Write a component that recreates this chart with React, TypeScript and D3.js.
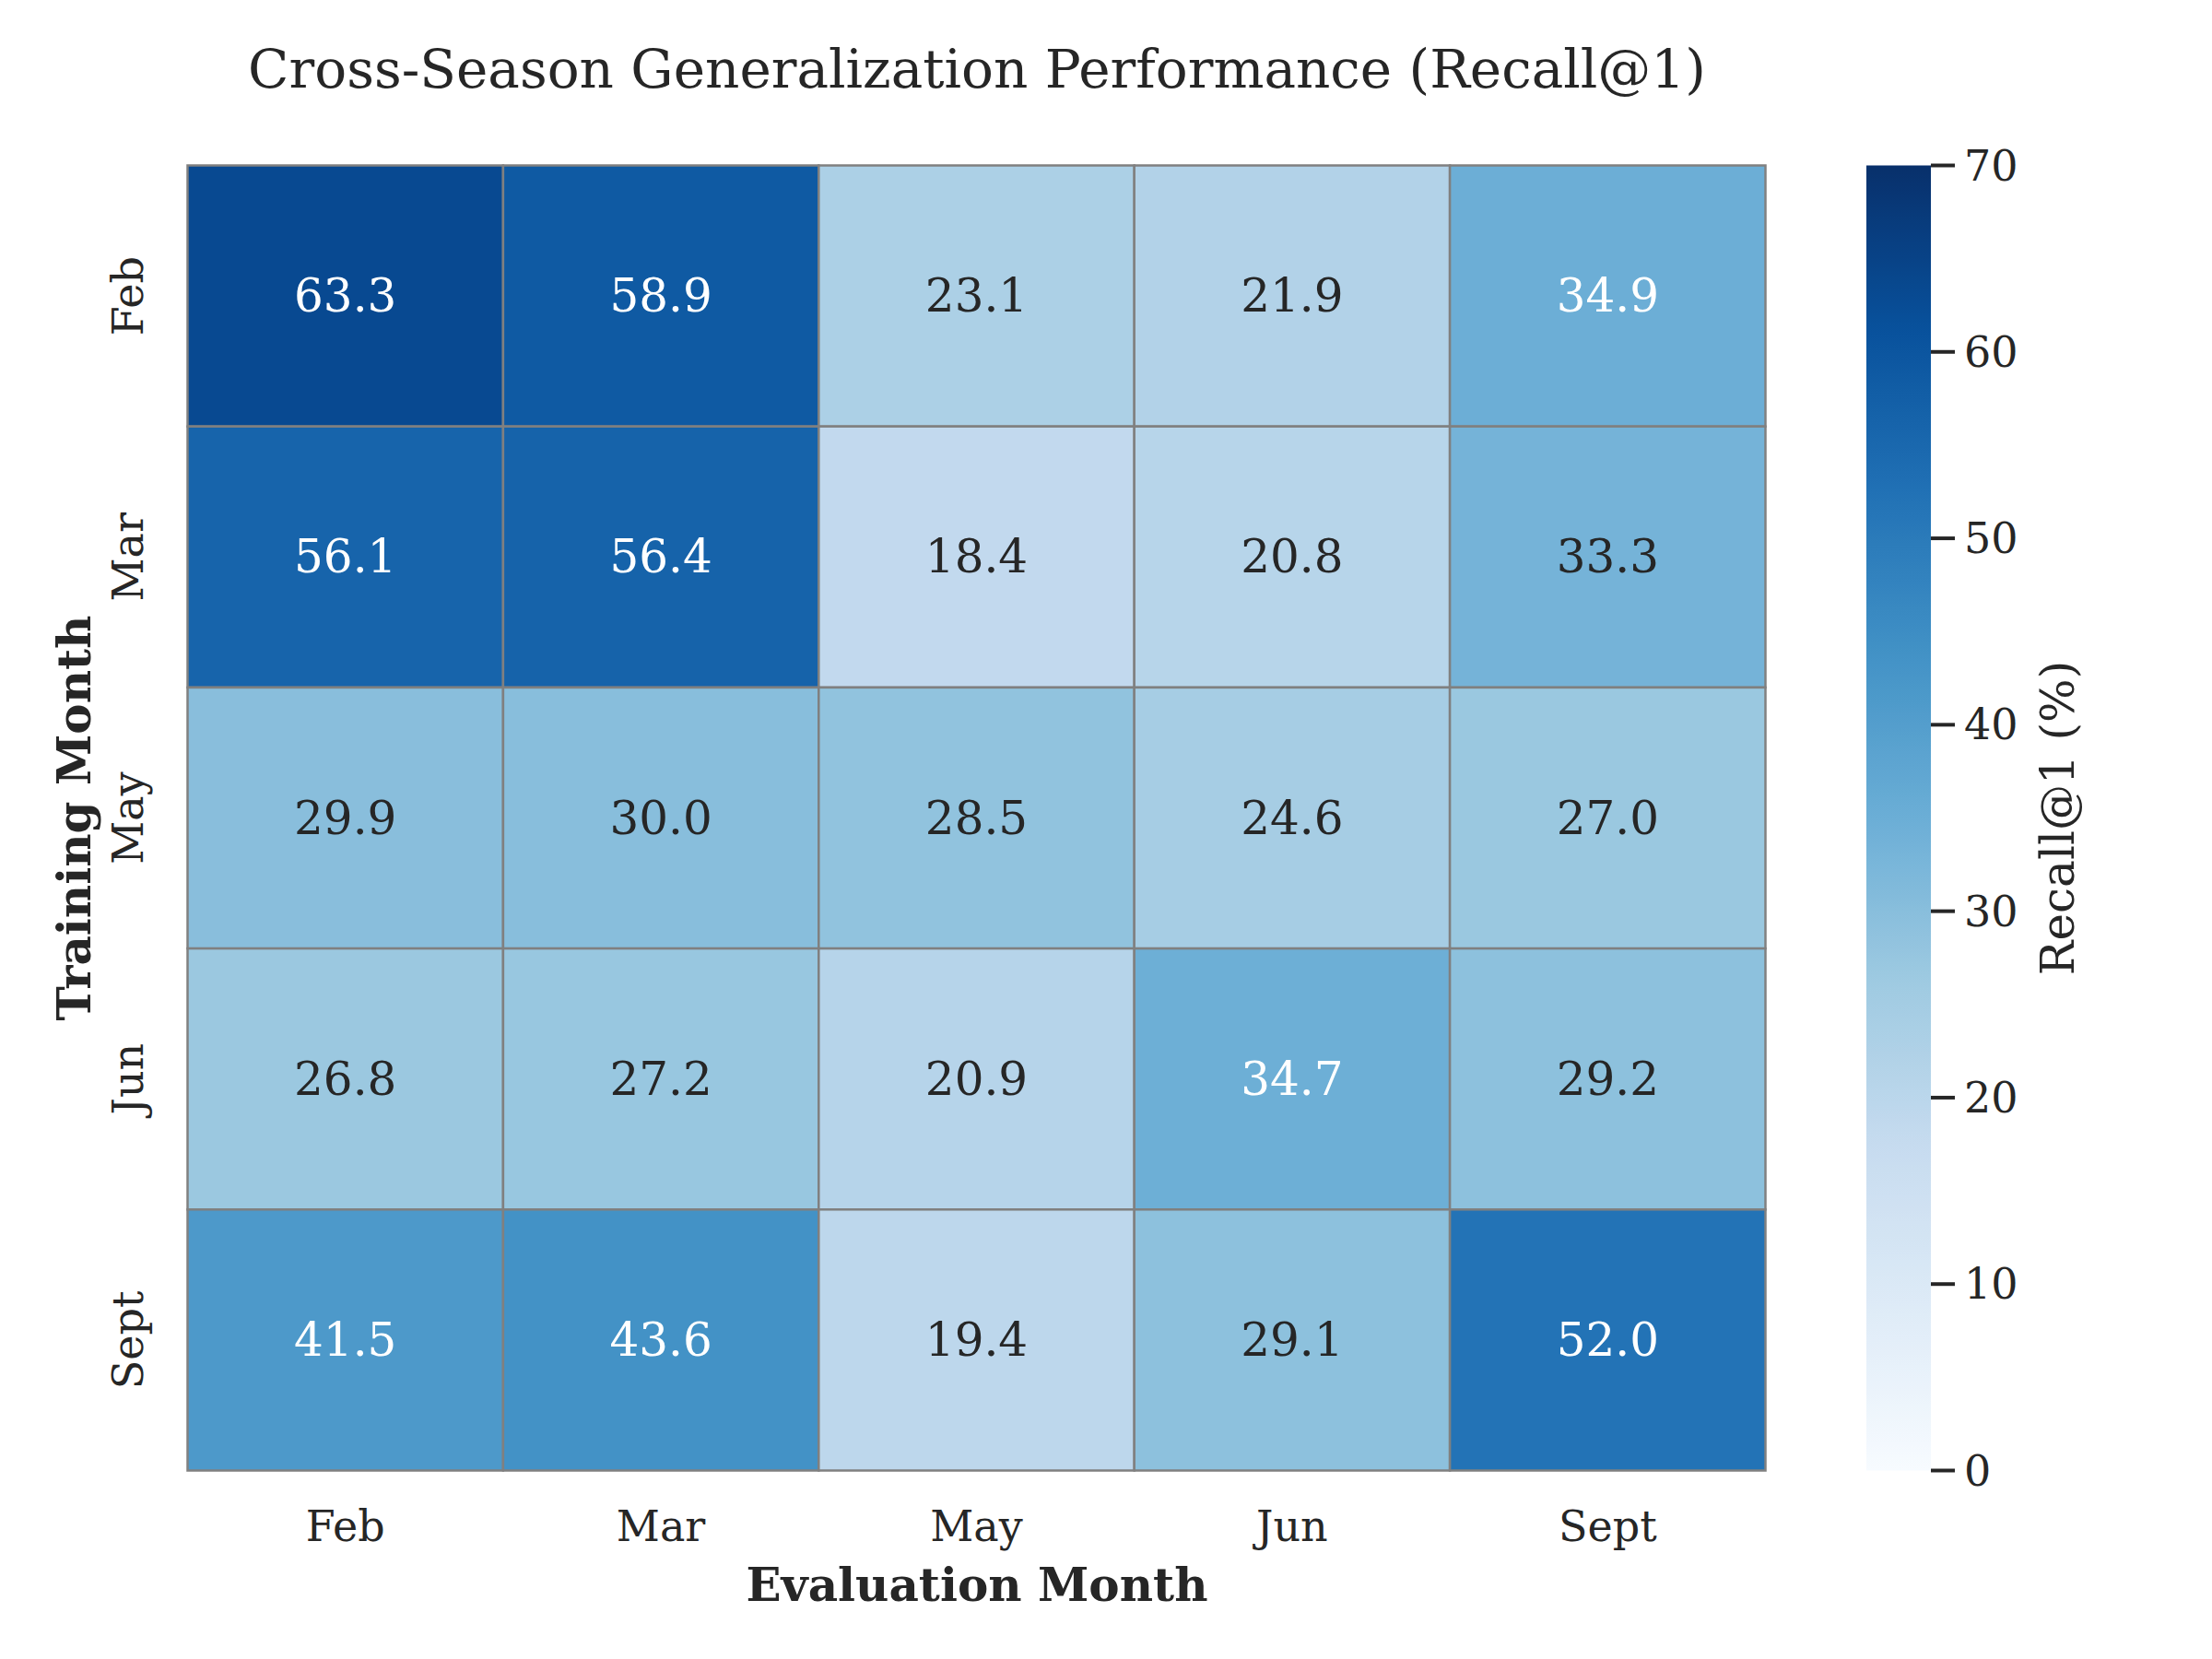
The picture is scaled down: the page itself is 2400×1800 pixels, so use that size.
import * as d3 from 'd3';

const evalMonths = ['Feb', 'Mar', 'May', 'Jun', 'Sept'];
const trainMonths = ['Feb', 'Mar', 'May', 'Jun', 'Sept'];

// rows = training month, columns = evaluation month
const recallFeb = [63.3, 58.9, 23.1, 21.9, 34.9];
const recallMar = [56.1, 56.4, 18.4, 20.8, 33.3];
const recallMay = [29.9, 30.0, 28.5, 24.6, 27.0];
const recallJun = [26.8, 27.2, 20.9, 34.7, 29.2];
const recallSept = [41.5, 43.6, 19.4, 29.1, 52.0];
const recallRows = [recallFeb, recallMar, recallMay, recallJun, recallSept];

const colorbarTicks = [0, 10, 20, 30, 40, 50, 60, 70];

// matplotlib "Blues" anchors
const bluesStops = ['#f7fbff', '#deebf7', '#c6dbef', '#9ecae1', '#6baed6', '#4292c6', '#2171b5', '#08519c', '#08306b'];

const W = 2400;
const H = 1800;
const left = 203.5;
const right = 1915.5;
const top = 179.5;
const bottom = 1595.5;
const cbLeft = 2025;
const cbRight = 2095;
const font = '"DejaVu Serif", serif';

const vmin = 0;
const vmax = 70;

const color = d3
  .scaleLinear<string>()
  .domain(bluesStops.map((_, i) => vmin + (i * (vmax - vmin)) / (bluesStops.length - 1)))
  .range(bluesStops)
  .interpolate(d3.interpolateRgb)
  .clamp(true);

const luminance = (c: string) => {
  const rgb = d3.rgb(c);
  const lin = (v: number) => {
    const s = v / 255;
    return s <= 0.03928 ? s / 12.92 : Math.pow((s + 0.055) / 1.055, 2.4);
  };
  return 0.2126 * lin(rgb.r) + 0.7152 * lin(rgb.g) + 0.0722 * lin(rgb.b);
};

const App = () => {
  const x = d3.scaleBand().domain(evalMonths).range([left, right]);
  const y = d3.scaleBand().domain(trainMonths).range([top, bottom]);
  const cy = d3.scaleLinear().domain([vmin, vmax]).range([bottom, top]);

  const cells = recallRows.flatMap((row, ri) =>
    row.map((v, ci) => ({ train: trainMonths[ri], evalM: evalMonths[ci], v }))
  );

  const gradStops = d3.range(0, 101).map(i => i / 100);

  return (
    <svg
      width={W}
      height={H}
      style={{ display: 'block', position: 'absolute', left: 0, top: 0, background: '#fff' }}
      fontFamily={font}
    >
      <defs>
        <linearGradient id="cbGrad" x1="0" y1="1" x2="0" y2="0">
          {gradStops.map(t => (
            <stop key={t} offset={t} stopColor={color(vmin + t * (vmax - vmin))} />
          ))}
        </linearGradient>
      </defs>
      <rect width={W} height={H} fill="#fff" />

      <text x={1060} y={95} textAnchor="middle" fontSize={58} fill="#262626">
        Cross-Season Generalization Performance (Recall@1)
      </text>

      {cells.map(c => {
        const fill = color(c.v);
        const txt = luminance(fill) > 0.408 ? '#262626' : '#ffffff';
        const cx = (x(c.evalM) as number) + x.bandwidth() / 2;
        const cyy = (y(c.train) as number) + y.bandwidth() / 2;
        return (
          <g key={c.train + c.evalM}>
            <rect
              x={x(c.evalM)}
              y={y(c.train)}
              width={x.bandwidth()}
              height={y.bandwidth()}
              fill={fill}
              stroke="#808080"
              strokeWidth={2.5}
            />
            <text x={cx} y={cyy} textAnchor="middle" dominantBaseline="central" fontSize={50} fill={txt}>
              {c.v.toFixed(1)}
            </text>
          </g>
        );
      })}

      {evalMonths.map(m => (
        <text
          key={'xt' + m}
          x={(x(m) as number) + x.bandwidth() / 2}
          y={1672}
          textAnchor="middle"
          fontSize={46}
          fill="#262626"
        >
          {m}
        </text>
      ))}

      {trainMonths.map(m => {
        const yy = (y(m) as number) + y.bandwidth() / 2;
        return (
          <text
            key={'yt' + m}
            transform={`translate(155,${yy}) rotate(-90)`}
            textAnchor="middle"
            fontSize={46}
            fill="#262626"
          >
            {m}
          </text>
        );
      })}

      <text x={1060} y={1737} textAnchor="middle" fontSize={50} fontWeight="bold" fill="#262626">
        Evaluation Month
      </text>
      <text
        transform={`translate(98,${(top + bottom) / 2}) rotate(-90)`}
        textAnchor="middle"
        fontSize={50}
        fontWeight="bold"
        fill="#262626"
      >
        Training Month
      </text>

      <rect x={cbLeft} y={top} width={cbRight - cbLeft} height={bottom - top} fill="url(#cbGrad)" />
      {colorbarTicks.map(t => (
        <g key={'cb' + t} transform={`translate(${cbRight},${cy(t)})`}>
          <line x1={0} x2={26} y1={0} y2={0} stroke="#262626" strokeWidth={4} />
          <text x={36} y={0} dominantBaseline="central" fontSize={46} fill="#262626">
            {t}
          </text>
        </g>
      ))}
      <text
        transform={`translate(2250,${(top + bottom) / 2}) rotate(-90)`}
        textAnchor="middle"
        fontSize={50}
        fill="#262626"
      >
        Recall@1 (%)
      </text>
    </svg>
  );
};

export default App;
